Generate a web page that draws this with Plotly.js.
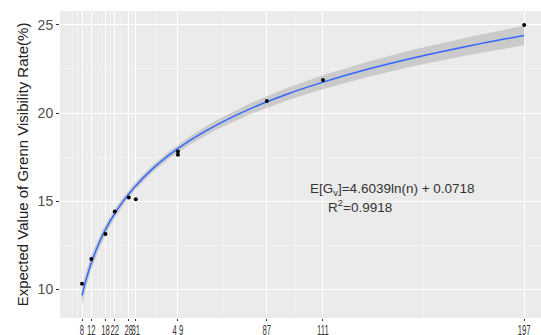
<!DOCTYPE html>
<html>
<head>
<meta charset="utf-8">
<script src="https://cdn.plot.ly/plotly-3.0.1.min.js"></script>
<style>html,body{margin:0;padding:0;background:#fff;}#chart{width:541px;height:335px;}</style>
</head>
<body>
<div id="chart"></div>
<script>
// observed points (n, expected green visibility rate %)
const pointN = [8, 12, 18, 22, 28, 31, 49, 49, 87, 111, 197];
const pointY = [10.32, 11.72, 13.13, 14.42, 15.21, 15.11, 17.82, 17.64, 20.68, 21.88, 25.0];

// fitted curve and confidence band
const fitN     = [8, 10, 12, 15, 18, 22, 26, 31, 38, 45, 55, 65, 80, 95, 110, 130, 150, 175, 197];
const fitMean  = [9.65, 10.67, 11.51, 12.54, 13.38, 14.30, 15.07, 15.88, 16.82, 17.60, 18.52, 19.29, 20.25, 21.04, 21.71, 22.48, 23.14, 23.85, 24.40];
const fitLower = [9.15, 10.23, 11.12, 12.20, 13.09, 14.05, 14.85, 15.67, 16.62, 17.39, 18.28, 19.02, 19.94, 20.69, 21.32, 22.05, 22.67, 23.34, 23.85];
const fitUpper = [10.15, 11.11, 11.90, 12.88, 13.67, 14.55, 15.29, 16.09, 17.02, 17.81, 18.76, 19.56, 20.56, 21.39, 22.10, 22.91, 23.61, 24.36, 24.95];

// axis ticks
const xTickVals = [8, 12, 18, 22, 28, 31, 49, 87, 111, 197];
const xTickText = ["8", "12", "18", "22", "28", "31", "4 9", "87", "111", "197"];
const xMinorVals = [4, 6, 10, 15, 20, 25, 29.5, 40, 68, 99, 154];
const yTickVals = [10, 15, 20, 25];
const yMinorVals = [12.5, 17.5, 22.5];

const traces = [
  {x: fitN, y: fitUpper, type: 'scatter', mode: 'lines', line: {width: 0, color: 'rgba(0,0,0,0)'}, hoverinfo: 'skip', showlegend: false},
  {x: fitN, y: fitLower, type: 'scatter', mode: 'lines', line: {width: 0, color: 'rgba(0,0,0,0)'}, fill: 'tonexty', fillcolor: 'rgba(153,153,153,0.4)', hoverinfo: 'skip', showlegend: false},
  {x: fitN, y: fitMean, type: 'scatter', mode: 'lines', line: {width: 1.5, color: '#3366FF', shape: 'spline'}, showlegend: false},
  {x: pointN, y: pointY, type: 'scatter', mode: 'markers', marker: {size: 4, color: '#000'}, showlegend: false}
];

const layout = {
  width: 541, height: 335,
  margin: {l: 60, r: 0, t: 11, b: 17},
  paper_bgcolor: '#ffffff',
  plot_bgcolor: '#EBEBEB',
  showlegend: false,
  xaxis: {
    range: [-1.41, 204.2],
    tickmode: 'array', tickvals: xTickVals, ticktext: xTickText,
    tickangle: 0,
    showgrid: true, gridcolor: '#ffffff', gridwidth: 1,
    zeroline: false, showline: false,
    ticks: 'outside', ticklen: 2, tickcolor: '#333333', tickwidth: 1,
    ticklabelstandoff: -3,
    tickfont: {family: 'Liberation Sans, Arial', size: 14, color: '#333333'},
    minor: {tickmode: 'array', tickvals: xMinorVals, showgrid: true, gridcolor: '#F7F7F7', gridwidth: 0.6, ticks: ''}
  },
  yaxis: {
    range: [8.37, 25.79],
    tickmode: 'array', tickvals: yTickVals,
    showgrid: true, gridcolor: '#ffffff', gridwidth: 1,
    zeroline: false, showline: false,
    ticks: 'outside', ticklen: 3, tickcolor: '#333333', tickwidth: 1,
    tickfont: {family: 'Liberation Sans, Arial', size: 14, color: '#4D4D4D'},
    minor: {tickmode: 'array', tickvals: yMinorVals, showgrid: true, gridcolor: '#F7F7F7', gridwidth: 0.6, ticks: ''},
    title: {text: 'Expected Value of Grenn Visibility Rate(%)', font: {family: 'Liberation Sans, Arial', size: 15, color: '#222222'}, standoff: 5}
  },
  annotations: [
    {xref: 'paper', yref: 'paper', x: (392 - 60) / 481, y: (335 - 17 - 189) / 307, text: 'E[G<sub>v</sub>]=4.6039ln(n) + 0.0718', showarrow: false, xanchor: 'center', yanchor: 'middle', font: {family: 'Liberation Sans, Arial', size: 13.5, color: '#333333'}},
    {xref: 'paper', yref: 'paper', x: (360 - 60) / 481, y: (335 - 17 - 205.5) / 307, text: 'R<sup>2</sup>=0.9918', showarrow: false, xanchor: 'center', yanchor: 'middle', font: {family: 'Liberation Sans, Arial', size: 13.5, color: '#333333'}}
  ]
};

Plotly.newPlot('chart', traces, layout, {displayModeBar: false, staticPlot: true}).then(function (gd) {
  // condensed look of the x tick labels (horizontal squeeze around each tick)
  gd.querySelectorAll('.xtick text').forEach(function (t) {
    const tr = t.getAttribute('transform') || '';
    if (tr.indexOf('scale') < 0) t.setAttribute('transform', tr + ' scale(0.55,1)');
  });
});
</script>
</body>
</html>
